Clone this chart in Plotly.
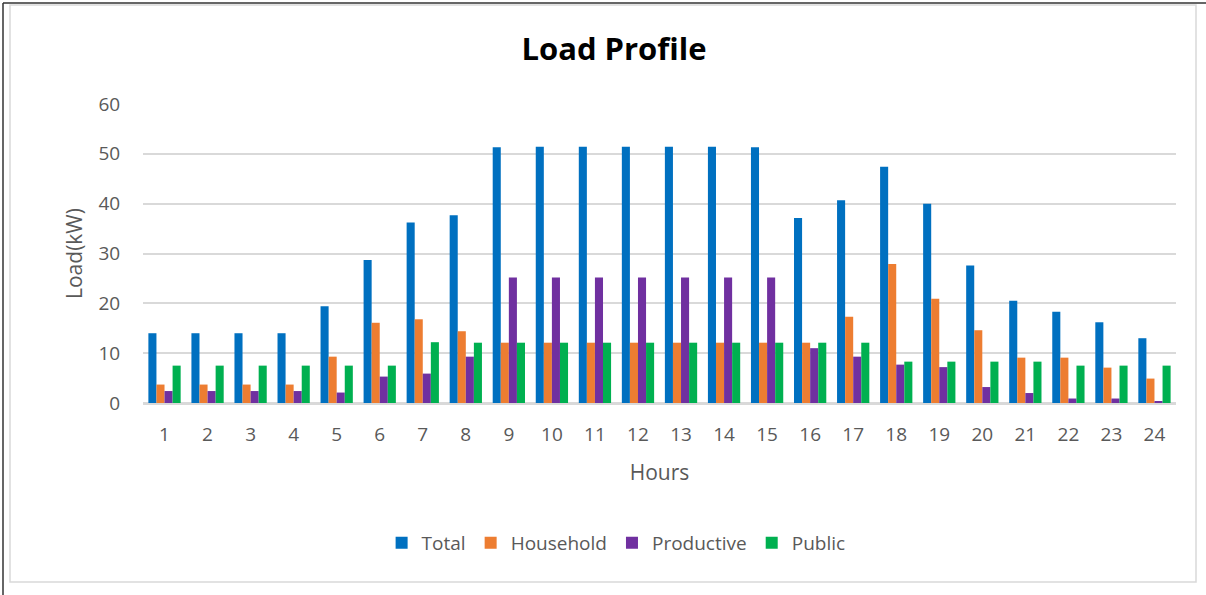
import plotly.graph_objects as go

hours = [str(h) for h in range(1, 25)]
total = [14.0, 14.0, 14.0, 14.0, 19.4, 28.7, 36.2, 37.7, 51.3, 51.4, 51.4, 51.4, 51.4, 51.4, 51.3,
         37.1, 40.7, 47.4, 40.0, 27.6, 20.5, 18.3, 16.2, 13.0]
household = [3.7, 3.7, 3.7, 3.7, 9.3, 16.1, 16.8, 14.4, 12.1, 12.1, 12.1, 12.1, 12.1, 12.1, 12.1,
             12.1, 17.3, 27.9, 20.9, 14.6, 9.1, 9.1, 7.1, 4.9]
productive = [2.4, 2.4, 2.4, 2.4, 2.1, 5.3, 5.9, 9.3, 25.2, 25.2, 25.2, 25.2, 25.2, 25.2, 25.2,
              11.0, 9.3, 7.7, 7.2, 3.2, 2.0, 0.9, 0.9, 0.3]
public = [7.5, 7.5, 7.5, 7.5, 7.5, 7.5, 12.2, 12.1, 12.1, 12.1, 12.1, 12.1, 12.1, 12.1, 12.1,
          12.1, 12.1, 8.3, 8.3, 8.3, 8.3, 7.5, 7.5, 7.5]

series = [("Total", total, "#0070C0"), ("Household", household, "#ED7D31"),
          ("Productive", productive, "#7030A0"), ("Public", public, "#00B050")]

fig = go.Figure()
for name, vals, col in series:
    fig.add_trace(go.Bar(x=hours, y=vals, name=name, marker_color=col,
                         marker_line_width=0))

font_fam = "Open Sans, Lato, sans-serif"
L, T, PW, PH = 143, 104, 1033, 299
fig.update_layout(
    width=1206, height=595,
    paper_bgcolor="white", plot_bgcolor="white",
    margin=dict(l=L, r=1206 - L - PW, t=T, b=595 - T - PH),
    barmode="group", bargap=0.25, bargroupgap=0,
    title=dict(text="<b>Load Profile</b>", x=(614 - L) / PW, xanchor="center", xref="paper",
               y=1 - 49 / 595, yanchor="middle", yref="container",
               font=dict(family=font_fam, size=31, color="black")),
    font=dict(family=font_fam, color="#595959", size=18),
    legend=dict(orientation="h", x=0.458, xanchor="center", y=-(543 - 403) / PH, yanchor="middle",
                font=dict(size=19, color="#595959"), itemwidth=30, traceorder="normal"),
    xaxis=dict(title=dict(text="Hours", font=dict(size=21, color="#595959"), standoff=20),
               showgrid=False, showline=True, linecolor="#d9d9d9", linewidth=1.5,
               ticks="outside", ticklen=13, tickcolor="rgba(0,0,0,0)",
               tickfont=dict(size=19, color="#595959")),
    yaxis=dict(title=dict(text="Load(kW)", font=dict(size=21, color="#595959"), standoff=10),
               range=[0, 60], dtick=10, showgrid=True, gridcolor="#d9d9d9", gridwidth=1.5,
               zeroline=True, zerolinecolor="#d9d9d9", zerolinewidth=1.5,
               ticks="outside", ticklen=18, tickcolor="rgba(0,0,0,0)",
               tickfont=dict(size=19, color="#595959")),
    shapes=[
        dict(type="rect", xref="paper", yref="paper", x0=(10 - L) / PW, x1=(1196 - L) / PW,
             y0=-(582 - 403) / PH, y1=(403 - 5) / PH, line=dict(color="#d9d9d9", width=1.5)),
        dict(type="line", xref="paper", yref="paper", x0=(3 - L) / PW, x1=(1206 - L) / PW,
             y0=(403 - 3) / PH, y1=(403 - 3) / PH, line=dict(color="#333333", width=1.5)),
        dict(type="line", xref="paper", yref="paper", x0=(3 - L) / PW, x1=(3 - L) / PW,
             y0=-(595 - 403) / PH, y1=(403 - 3) / PH, line=dict(color="#333333", width=1.5)),
    ],
)
fig.write_html("out.html", config={"displayModeBar": False},
               post_script="document.body.style.margin='0';document.body.style.overflow='hidden';")
